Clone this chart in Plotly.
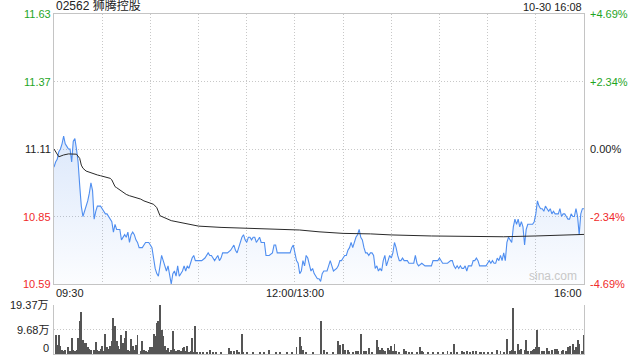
import plotly.graph_objects as go

# ---------------- data ----------------
minute = [0,1,2,3,4,5,6,7,8,9,10,11,12,13,14,15,16,17,18,19,20,21,22,23,24,25,26,27,28,29,30,31,32,33,34,35,36,37,38,39,40,41,42,43,44,45,46,47,48,49,50,51,52,53,54,55,56,57,58,59,60,61,62,63,64,65,66,67,68,69,70,71,72,73,74,75,76,77,78,80,81,82,83,84,85,86,87,88,89,90,92,94,95,96,97,98,99,100,101,102,103,104,105,106,107,108,110,111,112,113,114,115,116,117,118,119,120,121,122,123,124,125,126,127,128,129,130,131,132,134,136,137,138,139,147,148,149,150,151,152,153,154,155,156,157,158,159,160,161,162,164,165,166,167,168,169,170,171,172,173,174,176,177,178,179,180,181,182,183,184,185,186,187,188,189,190,191,192,193,194,195,196,197,198,199,200,201,202,203,204,205,206,207,208,209,210,211,212,213,214,215,216,217,218,219,220,221,222,224,225,226,227,229,231,233,235,236,238,239,240,241,242,245,247,248,249,250,251,252,253,254,255,256,257,258,259,260,261,262,263,264,265,267,269,270,271,272,273,274,275,276,277,278,279,280,281,282,283,284,285,286,287,288,289,290,291,292,293,294,295,296,297,298,299,300,301,302,303,304,305,306,307,308,309,310,311,312,313,314,315,316,317,318,319,320,321,322,323,324,325,326,327,328,329,330]
price = [11.04,11.06,11.07,11.10,11.11,11.13,11.16,11.13,11.12,11.11,11.11,11.06,11.14,11.15,11.11,11.06,10.97,10.89,10.85,10.87,10.89,10.91,10.94,10.98,10.95,10.84,10.87,10.89,10.89,10.89,10.88,10.87,10.86,10.86,10.85,10.84,10.83,10.79,10.82,10.80,10.80,10.80,10.76,10.77,10.78,10.77,10.79,10.75,10.78,10.79,10.78,10.76,10.75,10.73,10.73,10.73,10.74,10.75,10.75,10.75,10.74,10.73,10.69,10.65,10.63,10.62,10.66,10.70,10.68,10.66,10.64,10.66,10.62,10.59,10.63,10.64,10.62,10.66,10.62,10.64,10.66,10.64,10.66,10.65,10.67,10.69,10.70,10.68,10.68,10.68,10.68,10.69,10.70,10.71,10.70,10.70,10.69,10.68,10.69,10.70,10.68,10.69,10.71,10.71,10.71,10.71,10.72,10.73,10.74,10.72,10.71,10.73,10.75,10.77,10.78,10.76,10.75,10.77,10.77,10.76,10.77,10.77,10.75,10.76,10.77,10.75,10.75,10.75,10.70,10.70,10.71,10.74,10.74,10.71,10.71,10.73,10.74,10.71,10.68,10.67,10.63,10.64,10.68,10.66,10.70,10.69,10.66,10.64,10.65,10.63,10.61,10.61,10.60,10.63,10.64,10.64,10.64,10.66,10.68,10.66,10.64,10.65,10.66,10.68,10.68,10.69,10.70,10.70,10.72,10.73,10.75,10.73,10.75,10.77,10.78,10.80,10.77,10.76,10.73,10.71,10.71,10.70,10.71,10.71,10.70,10.65,10.66,10.64,10.65,10.64,10.68,10.70,10.66,10.68,10.70,10.69,10.71,10.75,10.73,10.70,10.68,10.68,10.69,10.68,10.68,10.68,10.67,10.67,10.67,10.70,10.67,10.66,10.67,10.66,10.66,10.66,10.68,10.68,10.68,10.69,10.68,10.67,10.67,10.68,10.68,10.66,10.65,10.66,10.65,10.66,10.65,10.65,10.66,10.64,10.66,10.66,10.66,10.68,10.68,10.69,10.68,10.66,10.66,10.66,10.67,10.68,10.67,10.68,10.67,10.67,10.69,10.68,10.70,10.68,10.71,10.68,10.75,10.77,10.76,10.75,10.81,10.84,10.82,10.84,10.81,10.83,10.81,10.74,10.80,10.82,10.82,10.82,10.82,10.83,10.86,10.91,10.89,10.88,10.88,10.87,10.89,10.88,10.87,10.88,10.86,10.87,10.86,10.86,10.86,10.88,10.85,10.86,10.86,10.85,10.84,10.84,10.86,10.85,10.85,10.88,10.85,10.78,10.86,10.88,10.88]

avg_minute = [0,3,6,9,14,16,17,18,20,22,25,27,29,31,33,35,36,37,38,39,41,43,45,47,49,52,54,56,58,60,62,64,66,73,80,90,104,125,149,153,165,180,197,210,235,262,280,300,330]
avg_price = [11.11,11.08,11.087,11.091,11.09,11.074,11.048,11.036,11.025,11.02,11.013,11.01,11.007,11.003,11.0,10.997,10.991,10.978,10.965,10.961,10.952,10.946,10.935,10.93,10.927,10.922,10.917,10.91,10.905,10.902,10.897,10.884,10.853,10.834,10.826,10.813,10.808,10.804,10.801,10.798,10.791,10.785,10.783,10.779,10.775,10.772,10.772,10.775,10.781]

vol_minute = [1,2,3,4,5,6,7,9,10,11,12,13,14,15,16,17,18,19,20,21,22,23,25,26,27,28,29,30,31,32,33,34,35,36,37,38,39,40,41,42,43,44,45,46,47,48,49,50,51,52,54,55,56,57,58,59,60,61,62,63,64,65,66,67,68,69,70,71,72,73,74,75,76,77,78,79,80,81,82,83,84,85,86,87,88,89,91,93,95,97,99,101,104,109,110,112,114,115,117,118,120,124,128,131,134,138,141,145,148,151,153,154,155,157,161,166,168,170,174,177,178,180,181,183,184,186,188,189,191,193,194,196,198,201,202,203,204,205,206,208,209,210,211,212,213,215,218,219,221,223,226,228,229,230,233,236,239,242,245,247,249,251,254,255,257,259,261,263,265,266,268,270,273,276,278,280,282,284,285,286,287,289,290,291,293,294,295,297,298,299,300,301,302,304,305,307,308,310,312,313,314,316,317,319,320,321,323,324,325,326,327,329,330]
vol_wan = [7.64,3.69,7.64,3.03,1.71,1.05,1.71,2.77,1.05,6.33,1.45,1.05,1.45,6.33,12.92,16.61,5.67,4.35,4.35,2.77,2.11,1.71,1.71,4.74,1.71,1.05,2.11,3.30,1.05,8.04,2.77,1.98,3.30,5.01,14.37,11.20,5.01,3.03,1.98,7.64,4.35,6.33,9.23,1.71,1.05,5.93,3.03,1.71,3.69,7.64,1.05,5.01,1.71,1.05,0.66,1.45,2.77,2.77,8.04,6.99,12.26,12.92,19.37,9.36,6.99,3.03,1.71,2.37,0.66,1.71,8.96,1.98,1.05,1.71,1.45,1.05,2.24,2.77,1.05,3.03,0.66,1.05,6.33,0.66,11.20,0.79,0.40,0.66,0.40,1.71,0.40,0.50,0.50,2.37,1.32,1.05,1.71,0.79,8.04,0.66,0.40,0.79,0.66,0.50,1.45,0.50,0.66,0.66,0.50,2.77,6.72,3.30,1.71,0.92,0.40,12.92,1.71,0.66,0.66,5.01,3.69,4.09,1.71,1.45,0.66,0.66,1.32,1.32,8.04,1.05,1.05,2.37,0.66,5.67,2.77,1.71,2.37,1.45,1.05,2.37,1.45,3.03,1.32,4.09,1.05,0.66,1.98,1.05,0.66,0.40,0.66,2.77,1.05,0.66,0.40,0.40,0.40,0.66,1.05,0.66,4.09,0.66,1.05,0.79,1.05,0.79,1.05,1.05,0.79,0.79,0.79,0.66,0.40,1.45,1.05,0.40,5.93,1.05,1.71,18.19,1.05,4.09,1.71,1.98,1.71,5.40,1.05,1.05,1.71,1.98,2.77,9.62,2.77,1.05,1.05,2.37,1.05,1.71,1.98,1.98,1.05,1.05,1.71,1.05,2.77,3.30,4.09,1.71,2.77,5.40,4.09,1.05,7.64]

prev_close = 11.11
price_ticks = [11.63, 11.37, 11.11, 10.85, 10.59]
pct_labels = ["+4.69%", "+2.34%", "0.00%", "-2.34%", "-4.69%"]
vol_ticks = [19.37, 9.68, 0]
vol_labels = ["19.37万", "9.68万", "0"]
time_ticks = [0, 150, 330]
time_labels = ["09:30", "12:00/13:00", "16:00"]
grid_minutes = list(range(0, 331, 30))

title_text = "02562 狮腾控股"
stamp_text = "10-30 16:08"

# ---------------- styling ----------------
GREEN = "#1fa51f"
RED = "#f02a2a"
DARK = "#222222"
GRID = "#c8c8c8"
BORDER = "#c4c4c4"
DOT = "1px,2px"
FONT = "Arial, Liberation Sans, Noto Sans CJK SC, sans-serif"

def tick_color(p):
    if p > prev_close + 1e-9:
        return GREEN
    if p < prev_close - 1e-9:
        return RED
    return DARK

fig = go.Figure()

# price line with gradient fill
fig.add_trace(go.Scatter(
    x=minute, y=price, mode="lines",
    line=dict(color="#4f8ef0", width=1.1),
    fill="tozeroy",
    fillgradient=dict(type="vertical", start=10.59, stop=11.16,
                      colorscale=[[0, "rgba(80,140,235,0.02)"], [1, "rgba(80,140,235,0.20)"]]),
    xaxis="x", yaxis="y", hoverinfo="skip", showlegend=False))

# average line
fig.add_trace(go.Scatter(
    x=avg_minute, y=avg_price, mode="lines",
    line=dict(color="#2a2a2a", width=1),
    xaxis="x", yaxis="y", hoverinfo="skip", showlegend=False))

# volume bars
fig.add_trace(go.Bar(
    x=vol_minute, y=vol_wan, width=0.6,
    marker=dict(color="#555555", line=dict(width=0)),
    xaxis="x2", yaxis="y2", hoverinfo="skip", showlegend=False))

main_bottom = 70 / 340
vol_top = 49 / 340

fig.update_layout(
    width=640, height=360,
    margin=dict(l=54, r=56, t=14, b=6),
    paper_bgcolor="white", plot_bgcolor="white",
    font=dict(family=FONT, size=11, color=DARK),
    bargap=0,
    xaxis=dict(domain=[0, 1], range=[0, 330], anchor="y",
               tickvals=grid_minutes, showticklabels=False, ticks="",
               showgrid=True, gridcolor=GRID, griddash=DOT, gridwidth=1,
               showline=True, linecolor=BORDER, linewidth=1, mirror=True, zeroline=False),
    yaxis=dict(domain=[main_bottom, 1], range=[10.59, 11.63], anchor="x",
               tickvals=price_ticks[1:4], showticklabels=False, ticks="",
               showgrid=True, gridcolor=GRID, griddash=DOT, gridwidth=1,
               showline=True, linecolor=BORDER, linewidth=1, mirror=True, zeroline=False),
    xaxis2=dict(domain=[0, 1], range=[0, 330], anchor="y2",
                showticklabels=False, ticks="", showgrid=False,
                showline=True, linecolor=BORDER, linewidth=1, zeroline=False),
    yaxis2=dict(domain=[0, vol_top], range=[0, 19.37], anchor="x2",
                tickvals=vol_ticks[:2], showticklabels=False, ticks="",
                showgrid=True, gridcolor=GRID, griddash=DOT, gridwidth=1,
                showline=True, linecolor=BORDER, linewidth=1, mirror=True, zeroline=False),
)

ann = []
for p in price_ticks:
    ann.append(dict(x=0, xref="paper", y=p, yref="y", xanchor="right", yanchor="middle",
                    xshift=-1, text=f"{p:.2f}", showarrow=False,
                    font=dict(size=11, color=tick_color(p), family=FONT)))
for p, lab in zip(price_ticks, pct_labels):
    ann.append(dict(x=1, xref="paper", y=p, yref="y", xanchor="left", yanchor="middle",
                    xshift=4, text=lab, showarrow=False,
                    font=dict(size=11, color=tick_color(p), family=FONT)))
anchors = ["left", "center", "right"]
for t, lab, a in zip(time_ticks, time_labels, anchors):
    ann.append(dict(x=t, xref="x", y=main_bottom, yref="paper", xanchor=a, yanchor="top",
                    yshift=-1, text=lab, showarrow=False,
                    font=dict(size=11, color=DARK, family=FONT)))
for v, lab in zip(vol_ticks, vol_labels):
    ann.append(dict(x=0, xref="paper", y=v, yref="y2", xanchor="right",
                    yanchor="bottom" if v == 0 else "middle",
                    xshift=-3, yshift=-2 if v == 0 else 0, text=lab, showarrow=False,
                    font=dict(size=11, color=DARK, family=FONT)))
ann.append(dict(x=0, xref="paper", y=1, yref="paper", xanchor="left", yanchor="bottom",
                text=title_text, showarrow=False, yshift=-1,
                font=dict(size=12, color=DARK, family=FONT)))
ann.append(dict(x=1, xref="paper", y=1, yref="paper", xanchor="right", yanchor="bottom",
                text=stamp_text, showarrow=False, yshift=-1,
                font=dict(size=11, color=DARK, family=FONT)))
ann.append(dict(x=0.9415, xref="paper", y=main_bottom, yref="paper", xanchor="center",
                yanchor="bottom", yshift=-1, text="sina.com", showarrow=False,
                font=dict(size=12, color="#c8c8c8", family=FONT)))
fig.update_layout(annotations=ann)

fig.write_html("out.html", config={"displayModeBar": False},
               post_script="document.body.style.margin='0';document.body.style.overflow='hidden';")
